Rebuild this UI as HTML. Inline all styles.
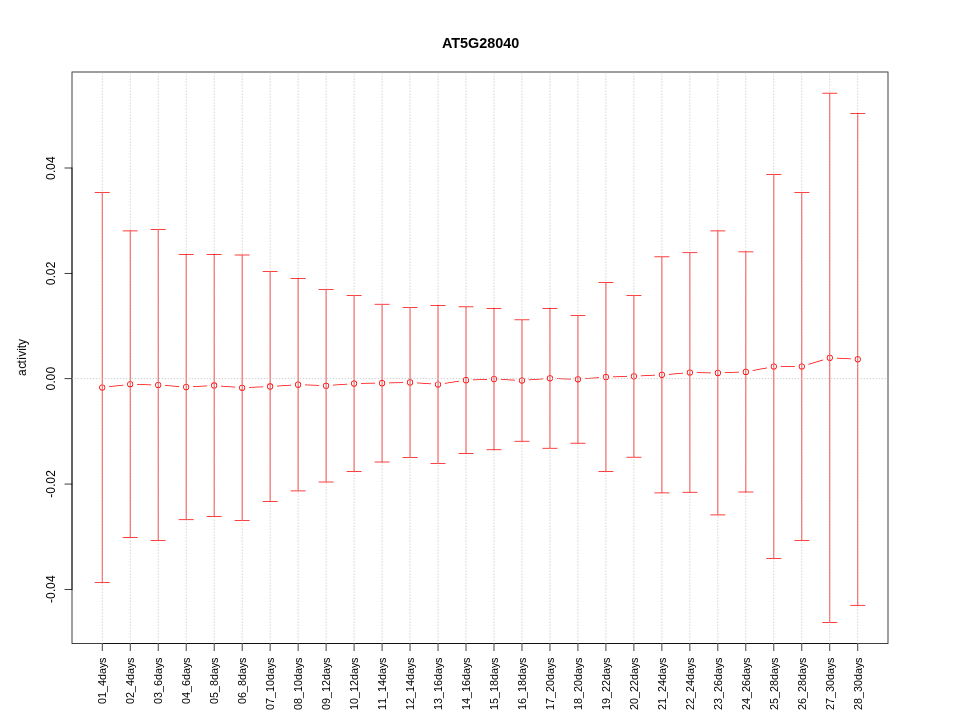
<!DOCTYPE html>
<html><head><meta charset="utf-8"><title>AT5G28040</title>
<style>html,body{margin:0;padding:0;background:#fff;overflow:hidden}svg{display:block}text{font-family:"Liberation Sans",sans-serif;fill:#000}</style></head>
<body>
<svg width="960" height="720" viewBox="0 0 960 720">
<rect width="960" height="720" fill="#fff"/>
<path fill="#f00" d="M109.128 387.063L123.387 385.382L123.299 384.637L109.041 386.318ZM137.102 384.766L151.271 385.159L151.292 384.409L137.123 384.016ZM165.052 385.866L179.254 386.932L179.31 386.184L165.108 385.118ZM193.093 387.049L207.279 386.225L207.236 385.476L193.049 386.3ZM221.01 386.402L235.222 387.595L235.285 386.848L221.073 385.655ZM249.06 387.842L263.239 387.158L263.203 386.408L249.023 387.092ZM277.043 386.381L291.235 385.468L291.187 384.719L276.995 385.632ZM304.996 385.296L319.171 385.853L319.2 385.104L305.026 384.547ZM333.007 385.558L347.217 384.39L347.156 383.642L332.946 384.81ZM360.987 383.745L375.152 383.58L375.143 382.83L360.979 382.995ZM388.974 383.327L403.142 382.973L403.123 382.223L388.955 382.577ZM416.905 383.298L431.105 384.325L431.159 383.577L416.96 382.55ZM444.911 383.771L459.235 381.57L459.121 380.829L444.797 383.03ZM472.927 380.266L487.1 379.734L487.072 378.984L472.899 379.516ZM500.873 379.826L515.054 380.548L515.093 379.799L500.911 379.077ZM528.893 380.357L543.099 379.24L543.04 378.493L528.834 379.61ZM556.851 378.94L571.023 379.434L571.049 378.685L556.877 378.191ZM584.859 379.108L599.069 377.94L599.008 377.192L584.798 378.36ZM612.842 377.202L627.01 376.848L626.991 376.098L612.823 376.452ZM640.829 376.317L655.011 375.582L654.972 374.833L640.79 375.568ZM668.809 374.639L683.022 373.433L682.959 372.686L668.746 373.892ZM696.779 372.955L710.944 373.17L710.955 372.42L696.79 372.205ZM724.778 373.034L738.95 372.54L738.924 371.791L724.752 372.285ZM752.696 370.966L767.117 368.145L766.973 367.409L752.552 370.23ZM780.736 366.825L794.899 366.825L794.899 366.075L780.736 366.075ZM808.522 364.768L823.302 360.199L823.08 359.482L808.301 364.051ZM836.674 358.532L850.856 359.267L850.895 358.518L836.713 357.783Z"/>
<path fill="#f00" fill-rule="evenodd" d="M99.147 387.5a3.075 3.075 0 1 0 6.15 0a3.075 3.075 0 1 0 -6.15 0ZM99.897 387.5a2.325 2.325 0 1 0 4.65 0a2.325 2.325 0 1 0 -4.65 0Z"/>
<path fill="#f00" fill-rule="evenodd" d="M127.13 384.2a3.075 3.075 0 1 0 6.15 0a3.075 3.075 0 1 0 -6.15 0ZM127.88 384.2a2.325 2.325 0 1 0 4.65 0a2.325 2.325 0 1 0 -4.65 0Z"/>
<path fill="#f00" fill-rule="evenodd" d="M155.114 384.975a3.075 3.075 0 1 0 6.15 0a3.075 3.075 0 1 0 -6.15 0ZM155.864 384.975a2.325 2.325 0 1 0 4.65 0a2.325 2.325 0 1 0 -4.65 0Z"/>
<path fill="#f00" fill-rule="evenodd" d="M183.098 387.075a3.075 3.075 0 1 0 6.15 0a3.075 3.075 0 1 0 -6.15 0ZM183.848 387.075a2.325 2.325 0 1 0 4.65 0a2.325 2.325 0 1 0 -4.65 0Z"/>
<path fill="#f00" fill-rule="evenodd" d="M211.081 385.45a3.075 3.075 0 1 0 6.15 0a3.075 3.075 0 1 0 -6.15 0ZM211.831 385.45a2.325 2.325 0 1 0 4.65 0a2.325 2.325 0 1 0 -4.65 0Z"/>
<path fill="#f00" fill-rule="evenodd" d="M239.065 387.8a3.075 3.075 0 1 0 6.15 0a3.075 3.075 0 1 0 -6.15 0ZM239.815 387.8a2.325 2.325 0 1 0 4.65 0a2.325 2.325 0 1 0 -4.65 0Z"/>
<path fill="#f00" fill-rule="evenodd" d="M267.048 386.45a3.075 3.075 0 1 0 6.15 0a3.075 3.075 0 1 0 -6.15 0ZM267.798 386.45a2.325 2.325 0 1 0 4.65 0a2.325 2.325 0 1 0 -4.65 0Z"/>
<path fill="#f00" fill-rule="evenodd" d="M295.031 384.65a3.075 3.075 0 1 0 6.15 0a3.075 3.075 0 1 0 -6.15 0ZM295.781 384.65a2.325 2.325 0 1 0 4.65 0a2.325 2.325 0 1 0 -4.65 0Z"/>
<path fill="#f00" fill-rule="evenodd" d="M323.015 385.75a3.075 3.075 0 1 0 6.15 0a3.075 3.075 0 1 0 -6.15 0ZM323.765 385.75a2.325 2.325 0 1 0 4.65 0a2.325 2.325 0 1 0 -4.65 0Z"/>
<path fill="#f00" fill-rule="evenodd" d="M350.998 383.45a3.075 3.075 0 1 0 6.15 0a3.075 3.075 0 1 0 -6.15 0ZM351.748 383.45a2.325 2.325 0 1 0 4.65 0a2.325 2.325 0 1 0 -4.65 0Z"/>
<path fill="#f00" fill-rule="evenodd" d="M378.982 383.125a3.075 3.075 0 1 0 6.15 0a3.075 3.075 0 1 0 -6.15 0ZM379.732 383.125a2.325 2.325 0 1 0 4.65 0a2.325 2.325 0 1 0 -4.65 0Z"/>
<path fill="#f00" fill-rule="evenodd" d="M406.965 382.425a3.075 3.075 0 1 0 6.15 0a3.075 3.075 0 1 0 -6.15 0ZM407.715 382.425a2.325 2.325 0 1 0 4.65 0a2.325 2.325 0 1 0 -4.65 0Z"/>
<path fill="#f00" fill-rule="evenodd" d="M434.949 384.45a3.075 3.075 0 1 0 6.15 0a3.075 3.075 0 1 0 -6.15 0ZM435.699 384.45a2.325 2.325 0 1 0 4.65 0a2.325 2.325 0 1 0 -4.65 0Z"/>
<path fill="#f00" fill-rule="evenodd" d="M462.933 380.15a3.075 3.075 0 1 0 6.15 0a3.075 3.075 0 1 0 -6.15 0ZM463.683 380.15a2.325 2.325 0 1 0 4.65 0a2.325 2.325 0 1 0 -4.65 0Z"/>
<path fill="#f00" fill-rule="evenodd" d="M490.916 379.1a3.075 3.075 0 1 0 6.15 0a3.075 3.075 0 1 0 -6.15 0ZM491.666 379.1a2.325 2.325 0 1 0 4.65 0a2.325 2.325 0 1 0 -4.65 0Z"/>
<path fill="#f00" fill-rule="evenodd" d="M518.899 380.525a3.075 3.075 0 1 0 6.15 0a3.075 3.075 0 1 0 -6.15 0ZM519.649 380.525a2.325 2.325 0 1 0 4.65 0a2.325 2.325 0 1 0 -4.65 0Z"/>
<path fill="#f00" fill-rule="evenodd" d="M546.883 378.325a3.075 3.075 0 1 0 6.15 0a3.075 3.075 0 1 0 -6.15 0ZM547.633 378.325a2.325 2.325 0 1 0 4.65 0a2.325 2.325 0 1 0 -4.65 0Z"/>
<path fill="#f00" fill-rule="evenodd" d="M574.866 379.3a3.075 3.075 0 1 0 6.15 0a3.075 3.075 0 1 0 -6.15 0ZM575.616 379.3a2.325 2.325 0 1 0 4.65 0a2.325 2.325 0 1 0 -4.65 0Z"/>
<path fill="#f00" fill-rule="evenodd" d="M602.85 377a3.075 3.075 0 1 0 6.15 0a3.075 3.075 0 1 0 -6.15 0ZM603.6 377a2.325 2.325 0 1 0 4.65 0a2.325 2.325 0 1 0 -4.65 0Z"/>
<path fill="#f00" fill-rule="evenodd" d="M630.833 376.3a3.075 3.075 0 1 0 6.15 0a3.075 3.075 0 1 0 -6.15 0ZM631.583 376.3a2.325 2.325 0 1 0 4.65 0a2.325 2.325 0 1 0 -4.65 0Z"/>
<path fill="#f00" fill-rule="evenodd" d="M658.817 374.85a3.075 3.075 0 1 0 6.15 0a3.075 3.075 0 1 0 -6.15 0ZM659.567 374.85a2.325 2.325 0 1 0 4.65 0a2.325 2.325 0 1 0 -4.65 0Z"/>
<path fill="#f00" fill-rule="evenodd" d="M686.8 372.475a3.075 3.075 0 1 0 6.15 0a3.075 3.075 0 1 0 -6.15 0ZM687.55 372.475a2.325 2.325 0 1 0 4.65 0a2.325 2.325 0 1 0 -4.65 0Z"/>
<path fill="#f00" fill-rule="evenodd" d="M714.784 372.9a3.075 3.075 0 1 0 6.15 0a3.075 3.075 0 1 0 -6.15 0ZM715.534 372.9a2.325 2.325 0 1 0 4.65 0a2.325 2.325 0 1 0 -4.65 0Z"/>
<path fill="#f00" fill-rule="evenodd" d="M742.767 371.925a3.075 3.075 0 1 0 6.15 0a3.075 3.075 0 1 0 -6.15 0ZM743.517 371.925a2.325 2.325 0 1 0 4.65 0a2.325 2.325 0 1 0 -4.65 0Z"/>
<path fill="#f00" fill-rule="evenodd" d="M770.751 366.45a3.075 3.075 0 1 0 6.15 0a3.075 3.075 0 1 0 -6.15 0ZM771.501 366.45a2.325 2.325 0 1 0 4.65 0a2.325 2.325 0 1 0 -4.65 0Z"/>
<path fill="#f00" fill-rule="evenodd" d="M798.734 366.45a3.075 3.075 0 1 0 6.15 0a3.075 3.075 0 1 0 -6.15 0ZM799.484 366.45a2.325 2.325 0 1 0 4.65 0a2.325 2.325 0 1 0 -4.65 0Z"/>
<path fill="#f00" fill-rule="evenodd" d="M826.718 357.8a3.075 3.075 0 1 0 6.15 0a3.075 3.075 0 1 0 -6.15 0ZM827.468 357.8a2.325 2.325 0 1 0 4.65 0a2.325 2.325 0 1 0 -4.65 0Z"/>
<path fill="#f00" fill-rule="evenodd" d="M854.701 359.25a3.075 3.075 0 1 0 6.15 0a3.075 3.075 0 1 0 -6.15 0ZM855.451 359.25a2.325 2.325 0 1 0 4.65 0a2.325 2.325 0 1 0 -4.65 0Z"/>
<rect x="101.932" y="643.125" width="756.135" height="0.75"/>
<rect x="101.847" y="643.21" width="0.75" height="7.78"/>
<rect x="129.831" y="643.21" width="0.75" height="7.78"/>
<rect x="157.814" y="643.21" width="0.75" height="7.78"/>
<rect x="185.798" y="643.21" width="0.75" height="7.78"/>
<rect x="213.781" y="643.21" width="0.75" height="7.78"/>
<rect x="241.764" y="643.21" width="0.75" height="7.78"/>
<rect x="269.748" y="643.21" width="0.75" height="7.78"/>
<rect x="297.731" y="643.21" width="0.75" height="7.78"/>
<rect x="325.715" y="643.21" width="0.75" height="7.78"/>
<rect x="353.698" y="643.21" width="0.75" height="7.78"/>
<rect x="381.682" y="643.21" width="0.75" height="7.78"/>
<rect x="409.665" y="643.21" width="0.75" height="7.78"/>
<rect x="437.649" y="643.21" width="0.75" height="7.78"/>
<rect x="465.632" y="643.21" width="0.75" height="7.78"/>
<rect x="493.616" y="643.21" width="0.75" height="7.78"/>
<rect x="521.6" y="643.21" width="0.75" height="7.78"/>
<rect x="549.583" y="643.21" width="0.75" height="7.78"/>
<rect x="577.567" y="643.21" width="0.75" height="7.78"/>
<rect x="605.55" y="643.21" width="0.75" height="7.78"/>
<rect x="633.534" y="643.21" width="0.75" height="7.78"/>
<rect x="661.517" y="643.21" width="0.75" height="7.78"/>
<rect x="689.5" y="643.21" width="0.75" height="7.78"/>
<rect x="717.484" y="643.21" width="0.75" height="7.78"/>
<rect x="745.467" y="643.21" width="0.75" height="7.78"/>
<rect x="773.451" y="643.21" width="0.75" height="7.78"/>
<rect x="801.434" y="643.21" width="0.75" height="7.78"/>
<rect x="829.418" y="643.21" width="0.75" height="7.78"/>
<rect x="857.401" y="643.21" width="0.75" height="7.78"/>
<rect x="71.625" y="167.71" width="0.75" height="421.98"/>
<rect x="64.51" y="167.625" width="7.78" height="0.75"/>
<rect x="64.51" y="272.975" width="7.78" height="0.75"/>
<rect x="64.51" y="378.325" width="7.78" height="0.75"/>
<rect x="64.51" y="483.675" width="7.78" height="0.75"/>
<rect x="64.51" y="589.025" width="7.78" height="0.75"/>
<rect x="71.625" y="71.625" width="816.75" height="0.75"/>
<rect x="71.625" y="643.125" width="816.75" height="0.75"/>
<rect x="71.625" y="72.375" width="0.75" height="570.75"/>
<rect x="887.625" y="72.375" width="0.75" height="570.75"/>
<g style="will-change:transform">
<g font-size="10.8">
<text transform="translate(105.972 658) rotate(-90)" x="-46 -40 -34 -28 -22 -16 -10 -5">01_4days</text>
<text transform="translate(133.956 658) rotate(-90)" x="-46 -40 -34 -28 -22 -16 -10 -5">02_4days</text>
<text transform="translate(161.939 658) rotate(-90)" x="-46 -40 -34 -28 -22 -16 -10 -5">03_6days</text>
<text transform="translate(189.923 658) rotate(-90)" x="-46 -40 -34 -28 -22 -16 -10 -5">04_6days</text>
<text transform="translate(217.906 658) rotate(-90)" x="-46 -40 -34 -28 -22 -16 -10 -5">05_8days</text>
<text transform="translate(245.889 658) rotate(-90)" x="-46 -40 -34 -28 -22 -16 -10 -5">06_8days</text>
<text transform="translate(273.873 658) rotate(-90)" x="-52 -46 -40 -34 -28 -22 -16 -10 -5">07_10days</text>
<text transform="translate(301.856 658) rotate(-90)" x="-52 -46 -40 -34 -28 -22 -16 -10 -5">08_10days</text>
<text transform="translate(329.84 658) rotate(-90)" x="-52 -46 -40 -34 -28 -22 -16 -10 -5">09_12days</text>
<text transform="translate(357.823 658) rotate(-90)" x="-52 -46 -40 -34 -28 -22 -16 -10 -5">10_12days</text>
<text transform="translate(385.807 658) rotate(-90)" x="-52 -46 -40 -34 -28 -22 -16 -10 -5">11_14days</text>
<text transform="translate(413.79 658) rotate(-90)" x="-52 -46 -40 -34 -28 -22 -16 -10 -5">12_14days</text>
<text transform="translate(441.774 658) rotate(-90)" x="-52 -46 -40 -34 -28 -22 -16 -10 -5">13_16days</text>
<text transform="translate(469.757 658) rotate(-90)" x="-52 -46 -40 -34 -28 -22 -16 -10 -5">14_16days</text>
<text transform="translate(497.741 658) rotate(-90)" x="-52 -46 -40 -34 -28 -22 -16 -10 -5">15_18days</text>
<text transform="translate(525.725 658) rotate(-90)" x="-52 -46 -40 -34 -28 -22 -16 -10 -5">16_18days</text>
<text transform="translate(553.708 658) rotate(-90)" x="-52 -46 -40 -34 -28 -22 -16 -10 -5">17_20days</text>
<text transform="translate(581.692 658) rotate(-90)" x="-52 -46 -40 -34 -28 -22 -16 -10 -5">18_20days</text>
<text transform="translate(609.675 658) rotate(-90)" x="-52 -46 -40 -34 -28 -22 -16 -10 -5">19_22days</text>
<text transform="translate(637.659 658) rotate(-90)" x="-52 -46 -40 -34 -28 -22 -16 -10 -5">20_22days</text>
<text transform="translate(665.642 658) rotate(-90)" x="-52 -46 -40 -34 -28 -22 -16 -10 -5">21_24days</text>
<text transform="translate(693.625 658) rotate(-90)" x="-52 -46 -40 -34 -28 -22 -16 -10 -5">22_24days</text>
<text transform="translate(721.609 658) rotate(-90)" x="-52 -46 -40 -34 -28 -22 -16 -10 -5">23_26days</text>
<text transform="translate(749.592 658) rotate(-90)" x="-52 -46 -40 -34 -28 -22 -16 -10 -5">24_26days</text>
<text transform="translate(777.576 658) rotate(-90)" x="-52 -46 -40 -34 -28 -22 -16 -10 -5">25_28days</text>
<text transform="translate(805.559 658) rotate(-90)" x="-52 -46 -40 -34 -28 -22 -16 -10 -5">26_28days</text>
<text transform="translate(833.543 658) rotate(-90)" x="-52 -46 -40 -34 -28 -22 -16 -10 -5">27_30days</text>
<text transform="translate(861.526 658) rotate(-90)" x="-52 -46 -40 -34 -28 -22 -16 -10 -5">28_30days</text>
</g>
<g font-size="12">
<text transform="translate(54.72 168) rotate(-90)" x="-12 -5 -2 5">0.04</text>
<text transform="translate(54.72 273.25) rotate(-90)" x="-12 -5 -2 5">0.02</text>
<text transform="translate(54.72 378.5) rotate(-90)" x="-12 -5 -2 5">0.00</text>
<text transform="translate(54.72 483.75) rotate(-90)" x="-14 -10 -3 0 7">-0.02</text>
<text transform="translate(54.72 589) rotate(-90)" x="-14 -10 -3 0 7">-0.04</text>
<text transform="translate(25.92 357) rotate(-90)" x="-18.9 -11.7 -6.4 -2.85 0.2 6.17 8.8 12">activity</text>
</g>
<text x="441.95" y="48" font-size="14.4" font-weight="bold">AT5G28040</text>
</g>
<g fill="#f00">
<rect x="101.847" y="192.21" width="0.75" height="390.58"/><rect x="94.732" y="192.125" width="14.98" height="0.75"/><rect x="94.732" y="582.125" width="14.98" height="0.75"/>
<rect x="129.831" y="230.61" width="0.75" height="307.18"/><rect x="122.715" y="230.525" width="14.98" height="0.75"/><rect x="122.715" y="537.125" width="14.98" height="0.75"/>
<rect x="157.814" y="229.16" width="0.75" height="311.63"/><rect x="150.699" y="229.075" width="14.98" height="0.75"/><rect x="150.699" y="540.125" width="14.98" height="0.75"/>
<rect x="185.798" y="254.16" width="0.75" height="265.83"/><rect x="178.683" y="254.075" width="14.98" height="0.75"/><rect x="178.683" y="519.325" width="14.98" height="0.75"/>
<rect x="213.781" y="254.11" width="0.75" height="262.68"/><rect x="206.666" y="254.025" width="14.98" height="0.75"/><rect x="206.666" y="516.125" width="14.98" height="0.75"/>
<rect x="241.764" y="254.71" width="0.75" height="266.18"/><rect x="234.65" y="254.625" width="14.98" height="0.75"/><rect x="234.65" y="520.225" width="14.98" height="0.75"/>
<rect x="269.748" y="271.21" width="0.75" height="230.48"/><rect x="262.633" y="271.125" width="14.98" height="0.75"/><rect x="262.633" y="501.025" width="14.98" height="0.75"/>
<rect x="297.731" y="278.11" width="0.75" height="213.08"/><rect x="290.616" y="278.025" width="14.98" height="0.75"/><rect x="290.616" y="490.525" width="14.98" height="0.75"/>
<rect x="325.715" y="289.21" width="0.75" height="193.08"/><rect x="318.6" y="289.125" width="14.98" height="0.75"/><rect x="318.6" y="481.625" width="14.98" height="0.75"/>
<rect x="353.698" y="295.21" width="0.75" height="176.48"/><rect x="346.583" y="295.125" width="14.98" height="0.75"/><rect x="346.583" y="471.025" width="14.98" height="0.75"/>
<rect x="381.682" y="303.96" width="0.75" height="158.33"/><rect x="374.567" y="303.875" width="14.98" height="0.75"/><rect x="374.567" y="461.625" width="14.98" height="0.75"/>
<rect x="409.665" y="307.16" width="0.75" height="150.53"/><rect x="402.55" y="307.075" width="14.98" height="0.75"/><rect x="402.55" y="457.025" width="14.98" height="0.75"/>
<rect x="437.649" y="305.11" width="0.75" height="158.68"/><rect x="430.534" y="305.025" width="14.98" height="0.75"/><rect x="430.534" y="463.125" width="14.98" height="0.75"/>
<rect x="465.632" y="306.51" width="0.75" height="147.28"/><rect x="458.517" y="306.425" width="14.98" height="0.75"/><rect x="458.517" y="453.125" width="14.98" height="0.75"/>
<rect x="493.616" y="308.16" width="0.75" height="141.88"/><rect x="486.501" y="308.075" width="14.98" height="0.75"/><rect x="486.501" y="449.375" width="14.98" height="0.75"/>
<rect x="521.6" y="319.51" width="0.75" height="122.03"/><rect x="514.485" y="319.425" width="14.98" height="0.75"/><rect x="514.485" y="440.875" width="14.98" height="0.75"/>
<rect x="549.583" y="308.11" width="0.75" height="140.43"/><rect x="542.468" y="308.025" width="14.98" height="0.75"/><rect x="542.468" y="447.875" width="14.98" height="0.75"/>
<rect x="577.567" y="315.11" width="0.75" height="128.38"/><rect x="570.452" y="315.025" width="14.98" height="0.75"/><rect x="570.452" y="442.825" width="14.98" height="0.75"/>
<rect x="605.55" y="282.21" width="0.75" height="189.58"/><rect x="598.435" y="282.125" width="14.98" height="0.75"/><rect x="598.435" y="471.125" width="14.98" height="0.75"/>
<rect x="633.534" y="295.11" width="0.75" height="162.38"/><rect x="626.418" y="295.025" width="14.98" height="0.75"/><rect x="626.418" y="456.825" width="14.98" height="0.75"/>
<rect x="661.517" y="256.51" width="0.75" height="236.68"/><rect x="654.402" y="256.425" width="14.98" height="0.75"/><rect x="654.402" y="492.525" width="14.98" height="0.75"/>
<rect x="689.5" y="252.41" width="0.75" height="240.13"/><rect x="682.385" y="252.325" width="14.98" height="0.75"/><rect x="682.385" y="491.875" width="14.98" height="0.75"/>
<rect x="717.484" y="230.61" width="0.75" height="284.58"/><rect x="710.369" y="230.525" width="14.98" height="0.75"/><rect x="710.369" y="514.525" width="14.98" height="0.75"/>
<rect x="745.467" y="251.56" width="0.75" height="240.73"/><rect x="738.352" y="251.475" width="14.98" height="0.75"/><rect x="738.352" y="491.625" width="14.98" height="0.75"/>
<rect x="773.451" y="174.11" width="0.75" height="384.68"/><rect x="766.336" y="174.025" width="14.98" height="0.75"/><rect x="766.336" y="558.125" width="14.98" height="0.75"/>
<rect x="801.434" y="192.21" width="0.75" height="348.48"/><rect x="794.319" y="192.125" width="14.98" height="0.75"/><rect x="794.319" y="540.025" width="14.98" height="0.75"/>
<rect x="829.418" y="92.91" width="0.75" height="529.78"/><rect x="822.303" y="92.825" width="14.98" height="0.75"/><rect x="822.303" y="622.025" width="14.98" height="0.75"/>
<rect x="857.401" y="113.21" width="0.75" height="492.38"/><rect x="850.286" y="113.125" width="14.98" height="0.75"/><rect x="850.286" y="604.925" width="14.98" height="0.75"/>
</g>
<defs><g id="vg"><rect x="-.375" y="642.455" width=".75" height="1.34"/><rect x="-.375" y="639.455" width=".75" height="1.34"/><rect x="-.375" y="636.455" width=".75" height="1.34"/><rect x="-.375" y="633.455" width=".75" height="1.34"/><rect x="-.375" y="630.455" width=".75" height="1.34"/><rect x="-.375" y="627.455" width=".75" height="1.34"/><rect x="-.375" y="624.455" width=".75" height="1.34"/><rect x="-.375" y="621.455" width=".75" height="1.34"/><rect x="-.375" y="618.455" width=".75" height="1.34"/><rect x="-.375" y="615.455" width=".75" height="1.34"/><rect x="-.375" y="612.455" width=".75" height="1.34"/><rect x="-.375" y="609.455" width=".75" height="1.34"/><rect x="-.375" y="606.455" width=".75" height="1.34"/><rect x="-.375" y="603.455" width=".75" height="1.34"/><rect x="-.375" y="600.455" width=".75" height="1.34"/><rect x="-.375" y="597.455" width=".75" height="1.34"/><rect x="-.375" y="594.455" width=".75" height="1.34"/><rect x="-.375" y="591.455" width=".75" height="1.34"/><rect x="-.375" y="588.455" width=".75" height="1.34"/><rect x="-.375" y="585.455" width=".75" height="1.34"/><rect x="-.375" y="582.455" width=".75" height="1.34"/><rect x="-.375" y="579.455" width=".75" height="1.34"/><rect x="-.375" y="576.455" width=".75" height="1.34"/><rect x="-.375" y="573.455" width=".75" height="1.34"/><rect x="-.375" y="570.455" width=".75" height="1.34"/><rect x="-.375" y="567.455" width=".75" height="1.34"/><rect x="-.375" y="564.455" width=".75" height="1.34"/><rect x="-.375" y="561.455" width=".75" height="1.34"/><rect x="-.375" y="558.455" width=".75" height="1.34"/><rect x="-.375" y="555.455" width=".75" height="1.34"/><rect x="-.375" y="552.455" width=".75" height="1.34"/><rect x="-.375" y="549.455" width=".75" height="1.34"/><rect x="-.375" y="546.455" width=".75" height="1.34"/><rect x="-.375" y="543.455" width=".75" height="1.34"/><rect x="-.375" y="540.455" width=".75" height="1.34"/><rect x="-.375" y="537.455" width=".75" height="1.34"/><rect x="-.375" y="534.455" width=".75" height="1.34"/><rect x="-.375" y="531.455" width=".75" height="1.34"/><rect x="-.375" y="528.455" width=".75" height="1.34"/><rect x="-.375" y="525.455" width=".75" height="1.34"/><rect x="-.375" y="522.455" width=".75" height="1.34"/><rect x="-.375" y="519.455" width=".75" height="1.34"/><rect x="-.375" y="516.455" width=".75" height="1.34"/><rect x="-.375" y="513.455" width=".75" height="1.34"/><rect x="-.375" y="510.455" width=".75" height="1.34"/><rect x="-.375" y="507.455" width=".75" height="1.34"/><rect x="-.375" y="504.455" width=".75" height="1.34"/><rect x="-.375" y="501.455" width=".75" height="1.34"/><rect x="-.375" y="498.455" width=".75" height="1.34"/><rect x="-.375" y="495.455" width=".75" height="1.34"/><rect x="-.375" y="492.455" width=".75" height="1.34"/><rect x="-.375" y="489.455" width=".75" height="1.34"/><rect x="-.375" y="486.455" width=".75" height="1.34"/><rect x="-.375" y="483.455" width=".75" height="1.34"/><rect x="-.375" y="480.455" width=".75" height="1.34"/><rect x="-.375" y="477.455" width=".75" height="1.34"/><rect x="-.375" y="474.455" width=".75" height="1.34"/><rect x="-.375" y="471.455" width=".75" height="1.34"/><rect x="-.375" y="468.455" width=".75" height="1.34"/><rect x="-.375" y="465.455" width=".75" height="1.34"/><rect x="-.375" y="462.455" width=".75" height="1.34"/><rect x="-.375" y="459.455" width=".75" height="1.34"/><rect x="-.375" y="456.455" width=".75" height="1.34"/><rect x="-.375" y="453.455" width=".75" height="1.34"/><rect x="-.375" y="450.455" width=".75" height="1.34"/><rect x="-.375" y="447.455" width=".75" height="1.34"/><rect x="-.375" y="444.455" width=".75" height="1.34"/><rect x="-.375" y="441.455" width=".75" height="1.34"/><rect x="-.375" y="438.455" width=".75" height="1.34"/><rect x="-.375" y="435.455" width=".75" height="1.34"/><rect x="-.375" y="432.455" width=".75" height="1.34"/><rect x="-.375" y="429.455" width=".75" height="1.34"/><rect x="-.375" y="426.455" width=".75" height="1.34"/><rect x="-.375" y="423.455" width=".75" height="1.34"/><rect x="-.375" y="420.455" width=".75" height="1.34"/><rect x="-.375" y="417.455" width=".75" height="1.34"/><rect x="-.375" y="414.455" width=".75" height="1.34"/><rect x="-.375" y="411.455" width=".75" height="1.34"/><rect x="-.375" y="408.455" width=".75" height="1.34"/><rect x="-.375" y="405.455" width=".75" height="1.34"/><rect x="-.375" y="402.455" width=".75" height="1.34"/><rect x="-.375" y="399.455" width=".75" height="1.34"/><rect x="-.375" y="396.455" width=".75" height="1.34"/><rect x="-.375" y="393.455" width=".75" height="1.34"/><rect x="-.375" y="390.455" width=".75" height="1.34"/><rect x="-.375" y="387.455" width=".75" height="1.34"/><rect x="-.375" y="384.455" width=".75" height="1.34"/><rect x="-.375" y="381.455" width=".75" height="1.34"/><rect x="-.375" y="378.455" width=".75" height="1.34"/><rect x="-.375" y="375.455" width=".75" height="1.34"/><rect x="-.375" y="372.455" width=".75" height="1.34"/><rect x="-.375" y="369.455" width=".75" height="1.34"/><rect x="-.375" y="366.455" width=".75" height="1.34"/><rect x="-.375" y="363.455" width=".75" height="1.34"/><rect x="-.375" y="360.455" width=".75" height="1.34"/><rect x="-.375" y="357.455" width=".75" height="1.34"/><rect x="-.375" y="354.455" width=".75" height="1.34"/><rect x="-.375" y="351.455" width=".75" height="1.34"/><rect x="-.375" y="348.455" width=".75" height="1.34"/><rect x="-.375" y="345.455" width=".75" height="1.34"/><rect x="-.375" y="342.455" width=".75" height="1.34"/><rect x="-.375" y="339.455" width=".75" height="1.34"/><rect x="-.375" y="336.455" width=".75" height="1.34"/><rect x="-.375" y="333.455" width=".75" height="1.34"/><rect x="-.375" y="330.455" width=".75" height="1.34"/><rect x="-.375" y="327.455" width=".75" height="1.34"/><rect x="-.375" y="324.455" width=".75" height="1.34"/><rect x="-.375" y="321.455" width=".75" height="1.34"/><rect x="-.375" y="318.455" width=".75" height="1.34"/><rect x="-.375" y="315.455" width=".75" height="1.34"/><rect x="-.375" y="312.455" width=".75" height="1.34"/><rect x="-.375" y="309.455" width=".75" height="1.34"/><rect x="-.375" y="306.455" width=".75" height="1.34"/><rect x="-.375" y="303.455" width=".75" height="1.34"/><rect x="-.375" y="300.455" width=".75" height="1.34"/><rect x="-.375" y="297.455" width=".75" height="1.34"/><rect x="-.375" y="294.455" width=".75" height="1.34"/><rect x="-.375" y="291.455" width=".75" height="1.34"/><rect x="-.375" y="288.455" width=".75" height="1.34"/><rect x="-.375" y="285.455" width=".75" height="1.34"/><rect x="-.375" y="282.455" width=".75" height="1.34"/><rect x="-.375" y="279.455" width=".75" height="1.34"/><rect x="-.375" y="276.455" width=".75" height="1.34"/><rect x="-.375" y="273.455" width=".75" height="1.34"/><rect x="-.375" y="270.455" width=".75" height="1.34"/><rect x="-.375" y="267.455" width=".75" height="1.34"/><rect x="-.375" y="264.455" width=".75" height="1.34"/><rect x="-.375" y="261.455" width=".75" height="1.34"/><rect x="-.375" y="258.455" width=".75" height="1.34"/><rect x="-.375" y="255.455" width=".75" height="1.34"/><rect x="-.375" y="252.455" width=".75" height="1.34"/><rect x="-.375" y="249.455" width=".75" height="1.34"/><rect x="-.375" y="246.455" width=".75" height="1.34"/><rect x="-.375" y="243.455" width=".75" height="1.34"/><rect x="-.375" y="240.455" width=".75" height="1.34"/><rect x="-.375" y="237.455" width=".75" height="1.34"/><rect x="-.375" y="234.455" width=".75" height="1.34"/><rect x="-.375" y="231.455" width=".75" height="1.34"/><rect x="-.375" y="228.455" width=".75" height="1.34"/><rect x="-.375" y="225.455" width=".75" height="1.34"/><rect x="-.375" y="222.455" width=".75" height="1.34"/><rect x="-.375" y="219.455" width=".75" height="1.34"/><rect x="-.375" y="216.455" width=".75" height="1.34"/><rect x="-.375" y="213.455" width=".75" height="1.34"/><rect x="-.375" y="210.455" width=".75" height="1.34"/><rect x="-.375" y="207.455" width=".75" height="1.34"/><rect x="-.375" y="204.455" width=".75" height="1.34"/><rect x="-.375" y="201.455" width=".75" height="1.34"/><rect x="-.375" y="198.455" width=".75" height="1.34"/><rect x="-.375" y="195.455" width=".75" height="1.34"/><rect x="-.375" y="192.455" width=".75" height="1.34"/><rect x="-.375" y="189.455" width=".75" height="1.34"/><rect x="-.375" y="186.455" width=".75" height="1.34"/><rect x="-.375" y="183.455" width=".75" height="1.34"/><rect x="-.375" y="180.455" width=".75" height="1.34"/><rect x="-.375" y="177.455" width=".75" height="1.34"/><rect x="-.375" y="174.455" width=".75" height="1.34"/><rect x="-.375" y="171.455" width=".75" height="1.34"/><rect x="-.375" y="168.455" width=".75" height="1.34"/><rect x="-.375" y="165.455" width=".75" height="1.34"/><rect x="-.375" y="162.455" width=".75" height="1.34"/><rect x="-.375" y="159.455" width=".75" height="1.34"/><rect x="-.375" y="156.455" width=".75" height="1.34"/><rect x="-.375" y="153.455" width=".75" height="1.34"/><rect x="-.375" y="150.455" width=".75" height="1.34"/><rect x="-.375" y="147.455" width=".75" height="1.34"/><rect x="-.375" y="144.455" width=".75" height="1.34"/><rect x="-.375" y="141.455" width=".75" height="1.34"/><rect x="-.375" y="138.455" width=".75" height="1.34"/><rect x="-.375" y="135.455" width=".75" height="1.34"/><rect x="-.375" y="132.455" width=".75" height="1.34"/><rect x="-.375" y="129.455" width=".75" height="1.34"/><rect x="-.375" y="126.455" width=".75" height="1.34"/><rect x="-.375" y="123.455" width=".75" height="1.34"/><rect x="-.375" y="120.455" width=".75" height="1.34"/><rect x="-.375" y="117.455" width=".75" height="1.34"/><rect x="-.375" y="114.455" width=".75" height="1.34"/><rect x="-.375" y="111.455" width=".75" height="1.34"/><rect x="-.375" y="108.455" width=".75" height="1.34"/><rect x="-.375" y="105.455" width=".75" height="1.34"/><rect x="-.375" y="102.455" width=".75" height="1.34"/><rect x="-.375" y="99.455" width=".75" height="1.34"/><rect x="-.375" y="96.455" width=".75" height="1.34"/><rect x="-.375" y="93.455" width=".75" height="1.34"/><rect x="-.375" y="90.455" width=".75" height="1.34"/><rect x="-.375" y="87.455" width=".75" height="1.34"/><rect x="-.375" y="84.455" width=".75" height="1.34"/><rect x="-.375" y="81.455" width=".75" height="1.34"/><rect x="-.375" y="78.455" width=".75" height="1.34"/><rect x="-.375" y="75.455" width=".75" height="1.34"/><rect x="-.375" y="72.455" width=".75" height="1.34"/></g></defs>
<g fill="#bebebe">
<use href="#vg" x="102.222"/>
<use href="#vg" x="130.206"/>
<use href="#vg" x="158.189"/>
<use href="#vg" x="186.173"/>
<use href="#vg" x="214.156"/>
<use href="#vg" x="242.139"/>
<use href="#vg" x="270.123"/>
<use href="#vg" x="298.106"/>
<use href="#vg" x="326.09"/>
<use href="#vg" x="354.073"/>
<use href="#vg" x="382.057"/>
<use href="#vg" x="410.04"/>
<use href="#vg" x="438.024"/>
<use href="#vg" x="466.007"/>
<use href="#vg" x="493.991"/>
<use href="#vg" x="521.975"/>
<use href="#vg" x="549.958"/>
<use href="#vg" x="577.942"/>
<use href="#vg" x="605.925"/>
<use href="#vg" x="633.909"/>
<use href="#vg" x="661.892"/>
<use href="#vg" x="689.875"/>
<use href="#vg" x="717.859"/>
<use href="#vg" x="745.842"/>
<use href="#vg" x="773.826"/>
<use href="#vg" x="801.809"/>
<use href="#vg" x="829.793"/>
<use href="#vg" x="857.776"/>
<rect x="71.705" y="378.325" width="1.34" height=".75"/><rect x="74.705" y="378.325" width="1.34" height=".75"/><rect x="77.705" y="378.325" width="1.34" height=".75"/><rect x="80.705" y="378.325" width="1.34" height=".75"/><rect x="83.705" y="378.325" width="1.34" height=".75"/><rect x="86.705" y="378.325" width="1.34" height=".75"/><rect x="89.705" y="378.325" width="1.34" height=".75"/><rect x="92.705" y="378.325" width="1.34" height=".75"/><rect x="95.705" y="378.325" width="1.34" height=".75"/><rect x="98.705" y="378.325" width="1.34" height=".75"/><rect x="101.705" y="378.325" width="1.34" height=".75"/><rect x="104.705" y="378.325" width="1.34" height=".75"/><rect x="107.705" y="378.325" width="1.34" height=".75"/><rect x="110.705" y="378.325" width="1.34" height=".75"/><rect x="113.705" y="378.325" width="1.34" height=".75"/><rect x="116.705" y="378.325" width="1.34" height=".75"/><rect x="119.705" y="378.325" width="1.34" height=".75"/><rect x="122.705" y="378.325" width="1.34" height=".75"/><rect x="125.705" y="378.325" width="1.34" height=".75"/><rect x="128.705" y="378.325" width="1.34" height=".75"/><rect x="131.705" y="378.325" width="1.34" height=".75"/><rect x="134.705" y="378.325" width="1.34" height=".75"/><rect x="137.705" y="378.325" width="1.34" height=".75"/><rect x="140.705" y="378.325" width="1.34" height=".75"/><rect x="143.705" y="378.325" width="1.34" height=".75"/><rect x="146.705" y="378.325" width="1.34" height=".75"/><rect x="149.705" y="378.325" width="1.34" height=".75"/><rect x="152.705" y="378.325" width="1.34" height=".75"/><rect x="155.705" y="378.325" width="1.34" height=".75"/><rect x="158.705" y="378.325" width="1.34" height=".75"/><rect x="161.705" y="378.325" width="1.34" height=".75"/><rect x="164.705" y="378.325" width="1.34" height=".75"/><rect x="167.705" y="378.325" width="1.34" height=".75"/><rect x="170.705" y="378.325" width="1.34" height=".75"/><rect x="173.705" y="378.325" width="1.34" height=".75"/><rect x="176.705" y="378.325" width="1.34" height=".75"/><rect x="179.705" y="378.325" width="1.34" height=".75"/><rect x="182.705" y="378.325" width="1.34" height=".75"/><rect x="185.705" y="378.325" width="1.34" height=".75"/><rect x="188.705" y="378.325" width="1.34" height=".75"/><rect x="191.705" y="378.325" width="1.34" height=".75"/><rect x="194.705" y="378.325" width="1.34" height=".75"/><rect x="197.705" y="378.325" width="1.34" height=".75"/><rect x="200.705" y="378.325" width="1.34" height=".75"/><rect x="203.705" y="378.325" width="1.34" height=".75"/><rect x="206.705" y="378.325" width="1.34" height=".75"/><rect x="209.705" y="378.325" width="1.34" height=".75"/><rect x="212.705" y="378.325" width="1.34" height=".75"/><rect x="215.705" y="378.325" width="1.34" height=".75"/><rect x="218.705" y="378.325" width="1.34" height=".75"/><rect x="221.705" y="378.325" width="1.34" height=".75"/><rect x="224.705" y="378.325" width="1.34" height=".75"/><rect x="227.705" y="378.325" width="1.34" height=".75"/><rect x="230.705" y="378.325" width="1.34" height=".75"/><rect x="233.705" y="378.325" width="1.34" height=".75"/><rect x="236.705" y="378.325" width="1.34" height=".75"/><rect x="239.705" y="378.325" width="1.34" height=".75"/><rect x="242.705" y="378.325" width="1.34" height=".75"/><rect x="245.705" y="378.325" width="1.34" height=".75"/><rect x="248.705" y="378.325" width="1.34" height=".75"/><rect x="251.705" y="378.325" width="1.34" height=".75"/><rect x="254.705" y="378.325" width="1.34" height=".75"/><rect x="257.705" y="378.325" width="1.34" height=".75"/><rect x="260.705" y="378.325" width="1.34" height=".75"/><rect x="263.705" y="378.325" width="1.34" height=".75"/><rect x="266.705" y="378.325" width="1.34" height=".75"/><rect x="269.705" y="378.325" width="1.34" height=".75"/><rect x="272.705" y="378.325" width="1.34" height=".75"/><rect x="275.705" y="378.325" width="1.34" height=".75"/><rect x="278.705" y="378.325" width="1.34" height=".75"/><rect x="281.705" y="378.325" width="1.34" height=".75"/><rect x="284.705" y="378.325" width="1.34" height=".75"/><rect x="287.705" y="378.325" width="1.34" height=".75"/><rect x="290.705" y="378.325" width="1.34" height=".75"/><rect x="293.705" y="378.325" width="1.34" height=".75"/><rect x="296.705" y="378.325" width="1.34" height=".75"/><rect x="299.705" y="378.325" width="1.34" height=".75"/><rect x="302.705" y="378.325" width="1.34" height=".75"/><rect x="305.705" y="378.325" width="1.34" height=".75"/><rect x="308.705" y="378.325" width="1.34" height=".75"/><rect x="311.705" y="378.325" width="1.34" height=".75"/><rect x="314.705" y="378.325" width="1.34" height=".75"/><rect x="317.705" y="378.325" width="1.34" height=".75"/><rect x="320.705" y="378.325" width="1.34" height=".75"/><rect x="323.705" y="378.325" width="1.34" height=".75"/><rect x="326.705" y="378.325" width="1.34" height=".75"/><rect x="329.705" y="378.325" width="1.34" height=".75"/><rect x="332.705" y="378.325" width="1.34" height=".75"/><rect x="335.705" y="378.325" width="1.34" height=".75"/><rect x="338.705" y="378.325" width="1.34" height=".75"/><rect x="341.705" y="378.325" width="1.34" height=".75"/><rect x="344.705" y="378.325" width="1.34" height=".75"/><rect x="347.705" y="378.325" width="1.34" height=".75"/><rect x="350.705" y="378.325" width="1.34" height=".75"/><rect x="353.705" y="378.325" width="1.34" height=".75"/><rect x="356.705" y="378.325" width="1.34" height=".75"/><rect x="359.705" y="378.325" width="1.34" height=".75"/><rect x="362.705" y="378.325" width="1.34" height=".75"/><rect x="365.705" y="378.325" width="1.34" height=".75"/><rect x="368.705" y="378.325" width="1.34" height=".75"/><rect x="371.705" y="378.325" width="1.34" height=".75"/><rect x="374.705" y="378.325" width="1.34" height=".75"/><rect x="377.705" y="378.325" width="1.34" height=".75"/><rect x="380.705" y="378.325" width="1.34" height=".75"/><rect x="383.705" y="378.325" width="1.34" height=".75"/><rect x="386.705" y="378.325" width="1.34" height=".75"/><rect x="389.705" y="378.325" width="1.34" height=".75"/><rect x="392.705" y="378.325" width="1.34" height=".75"/><rect x="395.705" y="378.325" width="1.34" height=".75"/><rect x="398.705" y="378.325" width="1.34" height=".75"/><rect x="401.705" y="378.325" width="1.34" height=".75"/><rect x="404.705" y="378.325" width="1.34" height=".75"/><rect x="407.705" y="378.325" width="1.34" height=".75"/><rect x="410.705" y="378.325" width="1.34" height=".75"/><rect x="413.705" y="378.325" width="1.34" height=".75"/><rect x="416.705" y="378.325" width="1.34" height=".75"/><rect x="419.705" y="378.325" width="1.34" height=".75"/><rect x="422.705" y="378.325" width="1.34" height=".75"/><rect x="425.705" y="378.325" width="1.34" height=".75"/><rect x="428.705" y="378.325" width="1.34" height=".75"/><rect x="431.705" y="378.325" width="1.34" height=".75"/><rect x="434.705" y="378.325" width="1.34" height=".75"/><rect x="437.705" y="378.325" width="1.34" height=".75"/><rect x="440.705" y="378.325" width="1.34" height=".75"/><rect x="443.705" y="378.325" width="1.34" height=".75"/><rect x="446.705" y="378.325" width="1.34" height=".75"/><rect x="449.705" y="378.325" width="1.34" height=".75"/><rect x="452.705" y="378.325" width="1.34" height=".75"/><rect x="455.705" y="378.325" width="1.34" height=".75"/><rect x="458.705" y="378.325" width="1.34" height=".75"/><rect x="461.705" y="378.325" width="1.34" height=".75"/><rect x="464.705" y="378.325" width="1.34" height=".75"/><rect x="467.705" y="378.325" width="1.34" height=".75"/><rect x="470.705" y="378.325" width="1.34" height=".75"/><rect x="473.705" y="378.325" width="1.34" height=".75"/><rect x="476.705" y="378.325" width="1.34" height=".75"/><rect x="479.705" y="378.325" width="1.34" height=".75"/><rect x="482.705" y="378.325" width="1.34" height=".75"/><rect x="485.705" y="378.325" width="1.34" height=".75"/><rect x="488.705" y="378.325" width="1.34" height=".75"/><rect x="491.705" y="378.325" width="1.34" height=".75"/><rect x="494.705" y="378.325" width="1.34" height=".75"/><rect x="497.705" y="378.325" width="1.34" height=".75"/><rect x="500.705" y="378.325" width="1.34" height=".75"/><rect x="503.705" y="378.325" width="1.34" height=".75"/><rect x="506.705" y="378.325" width="1.34" height=".75"/><rect x="509.705" y="378.325" width="1.34" height=".75"/><rect x="512.705" y="378.325" width="1.34" height=".75"/><rect x="515.705" y="378.325" width="1.34" height=".75"/><rect x="518.705" y="378.325" width="1.34" height=".75"/><rect x="521.705" y="378.325" width="1.34" height=".75"/><rect x="524.705" y="378.325" width="1.34" height=".75"/><rect x="527.705" y="378.325" width="1.34" height=".75"/><rect x="530.705" y="378.325" width="1.34" height=".75"/><rect x="533.705" y="378.325" width="1.34" height=".75"/><rect x="536.705" y="378.325" width="1.34" height=".75"/><rect x="539.705" y="378.325" width="1.34" height=".75"/><rect x="542.705" y="378.325" width="1.34" height=".75"/><rect x="545.705" y="378.325" width="1.34" height=".75"/><rect x="548.705" y="378.325" width="1.34" height=".75"/><rect x="551.705" y="378.325" width="1.34" height=".75"/><rect x="554.705" y="378.325" width="1.34" height=".75"/><rect x="557.705" y="378.325" width="1.34" height=".75"/><rect x="560.705" y="378.325" width="1.34" height=".75"/><rect x="563.705" y="378.325" width="1.34" height=".75"/><rect x="566.705" y="378.325" width="1.34" height=".75"/><rect x="569.705" y="378.325" width="1.34" height=".75"/><rect x="572.705" y="378.325" width="1.34" height=".75"/><rect x="575.705" y="378.325" width="1.34" height=".75"/><rect x="578.705" y="378.325" width="1.34" height=".75"/><rect x="581.705" y="378.325" width="1.34" height=".75"/><rect x="584.705" y="378.325" width="1.34" height=".75"/><rect x="587.705" y="378.325" width="1.34" height=".75"/><rect x="590.705" y="378.325" width="1.34" height=".75"/><rect x="593.705" y="378.325" width="1.34" height=".75"/><rect x="596.705" y="378.325" width="1.34" height=".75"/><rect x="599.705" y="378.325" width="1.34" height=".75"/><rect x="602.705" y="378.325" width="1.34" height=".75"/><rect x="605.705" y="378.325" width="1.34" height=".75"/><rect x="608.705" y="378.325" width="1.34" height=".75"/><rect x="611.705" y="378.325" width="1.34" height=".75"/><rect x="614.705" y="378.325" width="1.34" height=".75"/><rect x="617.705" y="378.325" width="1.34" height=".75"/><rect x="620.705" y="378.325" width="1.34" height=".75"/><rect x="623.705" y="378.325" width="1.34" height=".75"/><rect x="626.705" y="378.325" width="1.34" height=".75"/><rect x="629.705" y="378.325" width="1.34" height=".75"/><rect x="632.705" y="378.325" width="1.34" height=".75"/><rect x="635.705" y="378.325" width="1.34" height=".75"/><rect x="638.705" y="378.325" width="1.34" height=".75"/><rect x="641.705" y="378.325" width="1.34" height=".75"/><rect x="644.705" y="378.325" width="1.34" height=".75"/><rect x="647.705" y="378.325" width="1.34" height=".75"/><rect x="650.705" y="378.325" width="1.34" height=".75"/><rect x="653.705" y="378.325" width="1.34" height=".75"/><rect x="656.705" y="378.325" width="1.34" height=".75"/><rect x="659.705" y="378.325" width="1.34" height=".75"/><rect x="662.705" y="378.325" width="1.34" height=".75"/><rect x="665.705" y="378.325" width="1.34" height=".75"/><rect x="668.705" y="378.325" width="1.34" height=".75"/><rect x="671.705" y="378.325" width="1.34" height=".75"/><rect x="674.705" y="378.325" width="1.34" height=".75"/><rect x="677.705" y="378.325" width="1.34" height=".75"/><rect x="680.705" y="378.325" width="1.34" height=".75"/><rect x="683.705" y="378.325" width="1.34" height=".75"/><rect x="686.705" y="378.325" width="1.34" height=".75"/><rect x="689.705" y="378.325" width="1.34" height=".75"/><rect x="692.705" y="378.325" width="1.34" height=".75"/><rect x="695.705" y="378.325" width="1.34" height=".75"/><rect x="698.705" y="378.325" width="1.34" height=".75"/><rect x="701.705" y="378.325" width="1.34" height=".75"/><rect x="704.705" y="378.325" width="1.34" height=".75"/><rect x="707.705" y="378.325" width="1.34" height=".75"/><rect x="710.705" y="378.325" width="1.34" height=".75"/><rect x="713.705" y="378.325" width="1.34" height=".75"/><rect x="716.705" y="378.325" width="1.34" height=".75"/><rect x="719.705" y="378.325" width="1.34" height=".75"/><rect x="722.705" y="378.325" width="1.34" height=".75"/><rect x="725.705" y="378.325" width="1.34" height=".75"/><rect x="728.705" y="378.325" width="1.34" height=".75"/><rect x="731.705" y="378.325" width="1.34" height=".75"/><rect x="734.705" y="378.325" width="1.34" height=".75"/><rect x="737.705" y="378.325" width="1.34" height=".75"/><rect x="740.705" y="378.325" width="1.34" height=".75"/><rect x="743.705" y="378.325" width="1.34" height=".75"/><rect x="746.705" y="378.325" width="1.34" height=".75"/><rect x="749.705" y="378.325" width="1.34" height=".75"/><rect x="752.705" y="378.325" width="1.34" height=".75"/><rect x="755.705" y="378.325" width="1.34" height=".75"/><rect x="758.705" y="378.325" width="1.34" height=".75"/><rect x="761.705" y="378.325" width="1.34" height=".75"/><rect x="764.705" y="378.325" width="1.34" height=".75"/><rect x="767.705" y="378.325" width="1.34" height=".75"/><rect x="770.705" y="378.325" width="1.34" height=".75"/><rect x="773.705" y="378.325" width="1.34" height=".75"/><rect x="776.705" y="378.325" width="1.34" height=".75"/><rect x="779.705" y="378.325" width="1.34" height=".75"/><rect x="782.705" y="378.325" width="1.34" height=".75"/><rect x="785.705" y="378.325" width="1.34" height=".75"/><rect x="788.705" y="378.325" width="1.34" height=".75"/><rect x="791.705" y="378.325" width="1.34" height=".75"/><rect x="794.705" y="378.325" width="1.34" height=".75"/><rect x="797.705" y="378.325" width="1.34" height=".75"/><rect x="800.705" y="378.325" width="1.34" height=".75"/><rect x="803.705" y="378.325" width="1.34" height=".75"/><rect x="806.705" y="378.325" width="1.34" height=".75"/><rect x="809.705" y="378.325" width="1.34" height=".75"/><rect x="812.705" y="378.325" width="1.34" height=".75"/><rect x="815.705" y="378.325" width="1.34" height=".75"/><rect x="818.705" y="378.325" width="1.34" height=".75"/><rect x="821.705" y="378.325" width="1.34" height=".75"/><rect x="824.705" y="378.325" width="1.34" height=".75"/><rect x="827.705" y="378.325" width="1.34" height=".75"/><rect x="830.705" y="378.325" width="1.34" height=".75"/><rect x="833.705" y="378.325" width="1.34" height=".75"/><rect x="836.705" y="378.325" width="1.34" height=".75"/><rect x="839.705" y="378.325" width="1.34" height=".75"/><rect x="842.705" y="378.325" width="1.34" height=".75"/><rect x="845.705" y="378.325" width="1.34" height=".75"/><rect x="848.705" y="378.325" width="1.34" height=".75"/><rect x="851.705" y="378.325" width="1.34" height=".75"/><rect x="854.705" y="378.325" width="1.34" height=".75"/><rect x="857.705" y="378.325" width="1.34" height=".75"/><rect x="860.705" y="378.325" width="1.34" height=".75"/><rect x="863.705" y="378.325" width="1.34" height=".75"/><rect x="866.705" y="378.325" width="1.34" height=".75"/><rect x="869.705" y="378.325" width="1.34" height=".75"/><rect x="872.705" y="378.325" width="1.34" height=".75"/><rect x="875.705" y="378.325" width="1.34" height=".75"/><rect x="878.705" y="378.325" width="1.34" height=".75"/><rect x="881.705" y="378.325" width="1.34" height=".75"/><rect x="884.705" y="378.325" width="1.34" height=".75"/><rect x="887.705" y="378.325" width="0.595" height=".75"/>
</g>
</svg>
</body></html>
